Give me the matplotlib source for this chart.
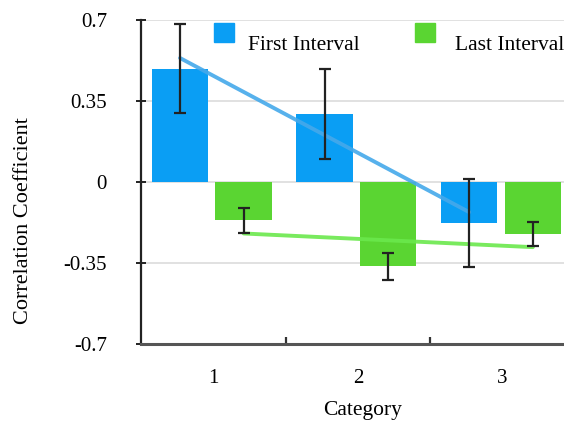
import numpy as np
import matplotlib
matplotlib.use("Agg")
import matplotlib.pyplot as plt
from matplotlib.patches import Rectangle

categories = [1, 2, 3]
series_names = ["First Interval", "Last Interval"]
first_vals = [0.49, 0.294, -0.176]
first_err = [0.193, 0.193, 0.191]
last_vals = [-0.166, -0.365, -0.225]
last_err = [0.055, 0.058, 0.053]
yticks = [-0.7, -0.35, 0, 0.35, 0.7]
ytick_labels = ["-0.7", "-0.35", "0", "0.35", "0.7"]

plt.rcParams['font.family'] = ['Liberation Serif', 'DejaVu Serif']

blue = "#0a9ef4"
green = "#5ad532"
blue_line = "#45a9ea"
green_line = "#6ae84c"

W, H = 564, 426
ax_l, ax_b, ax_t = 141, 344, 20
fig = plt.figure(figsize=(W/100, H/100), dpi=100)
ax = fig.add_axes([ax_l/W, (H-ax_b)/H, 1 - ax_l/W, (ax_b-ax_t)/H])

cat_w = 144.6
x = np.array(categories, dtype=float)
w = 0.39
off_b, off_g = -0.23, 0.21
ax.bar(x + off_b, first_vals, width=w, color=blue, zorder=2)
ax.bar(x + off_g, last_vals, width=w, color=green, zorder=2)

# trend lines (linear fits)
for vals, xs, col in [(first_vals, x + off_b, blue_line), (last_vals, x + off_g, green_line)]:
    p = np.polyfit(x, vals, 1)
    ax.plot(xs, np.polyval(p, x), color=col, lw=2.8, alpha=0.9, zorder=3,
            solid_capstyle='round')

ax.errorbar(x + off_b, first_vals, yerr=first_err, fmt='none', ecolor='#222222',
            elinewidth=1.6, capsize=4, capthick=1.6, zorder=4)
ax.errorbar(x + off_g, last_vals, yerr=last_err, fmt='none', ecolor='#222222',
            elinewidth=1.6, capsize=4, capthick=1.6, zorder=4)

ax.set_xlim(0.5, 0.5 + (W - ax_l)/cat_w)
ax.set_ylim(-0.7, 0.7)
ax.set_yticks(yticks)
ax.set_yticklabels(ytick_labels)
ax.set_xticks(categories)
ax.set_xticklabels([str(c) for c in categories])
ax.set_xticks([1.5, 2.5], minor=True)

for yv in yticks[1:]:
    ax.axhline(yv, color='#dcdcdc', lw=1.2, zorder=1)

for s in ['top', 'right']:
    ax.spines[s].set_visible(False)
ax.spines['left'].set_color('#222222')
ax.spines['left'].set_linewidth(1.6)
ax.spines['bottom'].set_color('#555555')
ax.spines['bottom'].set_linewidth(2.2)

ax.tick_params(axis='y', direction='inout', length=7, width=1.4, color='#222222',
               labelsize=15, pad=21)
ax.tick_params(axis='x', which='major', length=0, labelsize=15, pad=18)
ax.tick_params(axis='x', which='minor', direction='in', length=5, width=1.6, color='#333333')

ax.set_ylabel("Correlation Coefficient", fontsize=16)
ax.yaxis.set_label_coords((33 - ax_l)/(W - ax_l), 0.38)
ax.set_xlabel("Category", fontsize=15.5)
ax.xaxis.set_label_coords(0.524, -0.176)

# legend
leg_items = [(blue, 214.3, 248.3), (green, 415, 455)]
pw = W - ax_l
ph = ax_b - ax_t
for (col, sx, tx), name in zip(leg_items, series_names):
    ax.add_patch(Rectangle(((sx - ax_l)/pw, (ax_b - 41.7)/ph), 19.5/pw, 19/ph,
                           transform=ax.transAxes, color=col, clip_on=False, zorder=5))
    ax.text((tx - ax_l)/pw, (ax_b - 45)/ph, name, transform=ax.transAxes,
            fontsize=15.5, va='center', ha='left', zorder=5)

fig.savefig("out.png", dpi=100)
